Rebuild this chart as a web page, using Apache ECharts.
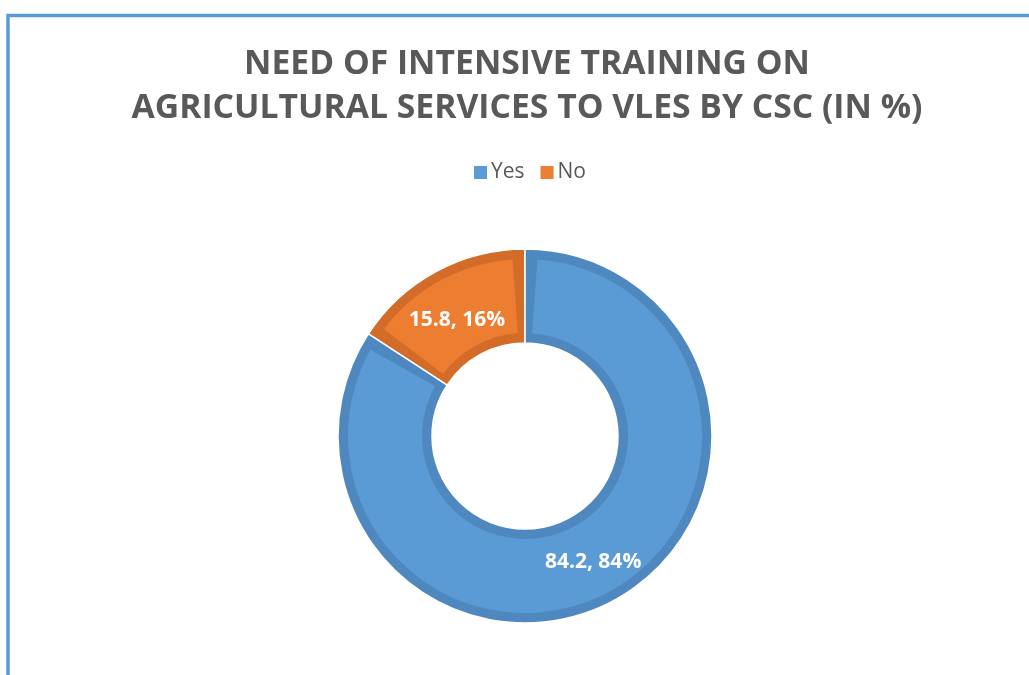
<!DOCTYPE html>
<html>
<head>
<meta charset="utf-8">
<script src="https://cdn.jsdelivr.net/npm/echarts@6/dist/echarts.min.js"></script>
<style>
  html, body { margin: 0; padding: 0; background: #fff; }
  #chart { width: 1029px; height: 675px; }
</style>
</head>
<body>
<div id="chart"></div>
<script>
// Survey answers, in percent
const categories = ['Yes', 'No'];
const values = [84.2, 15.8];
const fillColors = ['#5b9bd5', '#ed7d31'];
const edgeColors = ['#4f88bf', '#d26c28'];
const labelShift = [[0, 0], [0, 10]];
const titleLines = ['NEED OF INTENSIVE TRAINING ON', 'AGRICULTURAL SERVICES TO VLES BY CSC (IN %)'];

const chart = echarts.init(document.getElementById('chart'));

// Slices are laid out counter-clockwise from the top, so the list runs No, Yes
// to keep "Yes" sweeping clockwise from 12 o'clock.
const order = [1, 0];
const fillData = order.map(i => ({
  name: categories[i], value: values[i],
  itemStyle: { color: fillColors[i] },
  label: { offset: labelShift[i] }
}));
const edgeData = order.map(i => ({
  name: categories[i], value: values[i], itemStyle: { color: edgeColors[i] }
}));

chart.setOption({
  backgroundColor: '#ffffff',
  animation: false,
  title: {
    text: titleLines.join('\n'),
    left: 522,
    textAlign: 'center',
    top: 37,
    textStyle: {
      fontFamily: 'Open Sans',
      fontWeight: 'bold',
      fontSize: 33.7,
      lineHeight: 44,
      color: '#595959'
    }
  },
  legend: {
    data: categories,
    top: 157,
    left: 469,
    icon: 'rect',
    itemWidth: 13,
    itemHeight: 13,
    itemGap: 16,
    textStyle: { fontFamily: 'Open Sans', fontSize: 21, color: '#595959', padding: [0, 0, 0, -1] }
  },
  graphic: [{
    type: 'rect',
    silent: true,
    shape: { x: 8, y: 15.5, width: 1200, height: 900 },
    style: { fill: 'none', stroke: '#5b9bd5', lineWidth: 3.5 }
  }],
  series: [
    {
      name: 'fill',
      type: 'pie',
      z: 3,
      center: [525, 436],
      radius: [103, 177],
      startAngle: 90,
      clockwise: false,
      padAngle: 8,
      silent: true,
      label: {
        show: true,
        position: 'inside',
        color: '#ffffff',
        fontFamily: 'Open Sans',
        fontWeight: 'bold',
        fontSize: 21,
        formatter: p => p.value + ', ' + Math.round(p.percent) + '%'
      },
      labelLine: { show: false },
      data: fillData
    },
    {
      name: 'edge',
      type: 'pie',
      z: 2,
      center: [525, 436],
      radius: [93, 187],
      startAngle: 90,
      clockwise: false,
      silent: true,
      label: { show: false },
      labelLine: { show: false },
      itemStyle: { borderColor: '#ffffff', borderWidth: 1.5 },
      data: edgeData
    }
  ]
});
</script>
</body>
</html>
